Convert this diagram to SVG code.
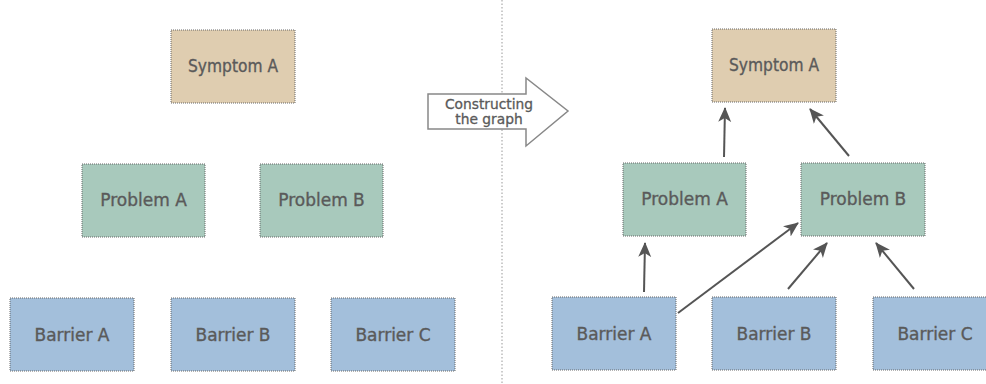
<svg xmlns="http://www.w3.org/2000/svg" width="986" height="384" viewBox="0 0 986 384">
<style>
.box{stroke:#666;stroke-width:1;stroke-dasharray:1 1}
.sym{fill:#dfcdb0}
.prob{fill:#a8c9bc}
.bar{fill:#a3bfdb}
.lbl{font-family:"DejaVu Sans",sans-serif;font-size:17px;fill:#5a5a5a;stroke:#5a5a5a;stroke-width:0.35;text-anchor:middle}
.arw{font-family:"DejaVu Sans",sans-serif;font-size:13.8px;fill:#5a5a5a;stroke:#5a5a5a;stroke-width:0.3;text-anchor:middle}
.con{stroke:#555;stroke-width:2;fill:none;marker-end:url(#ah)}
</style>
<defs>
<marker id="ah" markerUnits="userSpaceOnUse" markerWidth="16" markerHeight="14" refX="14" refY="6.5" orient="auto" viewBox="0 0 16 13">
<path d="M0,0 L15,6.5 L0,13 L4,6.5 z" fill="#555"/>
</marker>
</defs>
<rect width="986" height="384" fill="#fff"/>
<line x1="502" y1="0" x2="502" y2="384" stroke="#999" stroke-width="1" stroke-dasharray="1.5 2"/>
<g id="transform-arrow">
<polygon points="428,94 526,94 526,78 568,111 526,146 526,129 428,129" fill="#fff" stroke="#888" stroke-width="1.5"/>
<text class="arw" x="489" y="109">Constructing</text>
<text class="arw" x="489" y="123.5">the graph</text>
</g>
<g id="left-symptom-a"><rect class="box sym" x="171" y="30" width="124" height="73"/><text class="lbl" x="233" y="72" textLength="90" lengthAdjust="spacingAndGlyphs">Symptom A</text></g>
<g id="left-problem-a"><rect class="box prob" x="82" y="164" width="123" height="73"/><text class="lbl" x="143.5" y="206">Problem A</text></g>
<g id="left-problem-b"><rect class="box prob" x="260" y="164" width="123" height="73"/><text class="lbl" x="321.5" y="206">Problem B</text></g>
<g id="left-barrier-a"><rect class="box bar" x="10" y="298" width="124" height="73"/><text class="lbl" x="72" y="340.5">Barrier A</text></g>
<g id="left-barrier-b"><rect class="box bar" x="171" y="298" width="124" height="73"/><text class="lbl" x="233" y="340.5">Barrier B</text></g>
<g id="left-barrier-c"><rect class="box bar" x="331" y="298" width="124" height="73"/><text class="lbl" x="393" y="340.5">Barrier C</text></g>
<g id="right-symptom-a"><rect class="box sym" x="712" y="29" width="124" height="73"/><text class="lbl" x="774" y="71" textLength="90" lengthAdjust="spacingAndGlyphs">Symptom A</text></g>
<g id="right-problem-a"><rect class="box prob" x="623" y="163" width="123" height="73"/><text class="lbl" x="684.5" y="205">Problem A</text></g>
<g id="right-problem-b"><rect class="box prob" x="801" y="163" width="124" height="73"/><text class="lbl" x="863" y="205">Problem B</text></g>
<g id="right-barrier-a"><rect class="box bar" x="552" y="297" width="124" height="73"/><text class="lbl" x="614" y="339.5">Barrier A</text></g>
<g id="right-barrier-b"><rect class="box bar" x="712" y="297" width="124" height="73"/><text class="lbl" x="774" y="339.5">Barrier B</text></g>
<g id="right-barrier-c"><rect class="box bar" x="873" y="297" width="124" height="73"/><text class="lbl" x="935" y="339.5">Barrier C</text></g>
<g id="connectors">
<line class="con" x1="644" y1="292" x2="645" y2="243"/>
<line class="con" x1="678" y1="313" x2="798" y2="223"/>
<line class="con" x1="788" y1="289" x2="827" y2="243"/>
<line class="con" x1="914" y1="289" x2="876" y2="243"/>
<line class="con" x1="724" y1="157" x2="725" y2="108"/>
<line class="con" x1="849" y1="156" x2="810" y2="109"/>
</g>
</svg>
